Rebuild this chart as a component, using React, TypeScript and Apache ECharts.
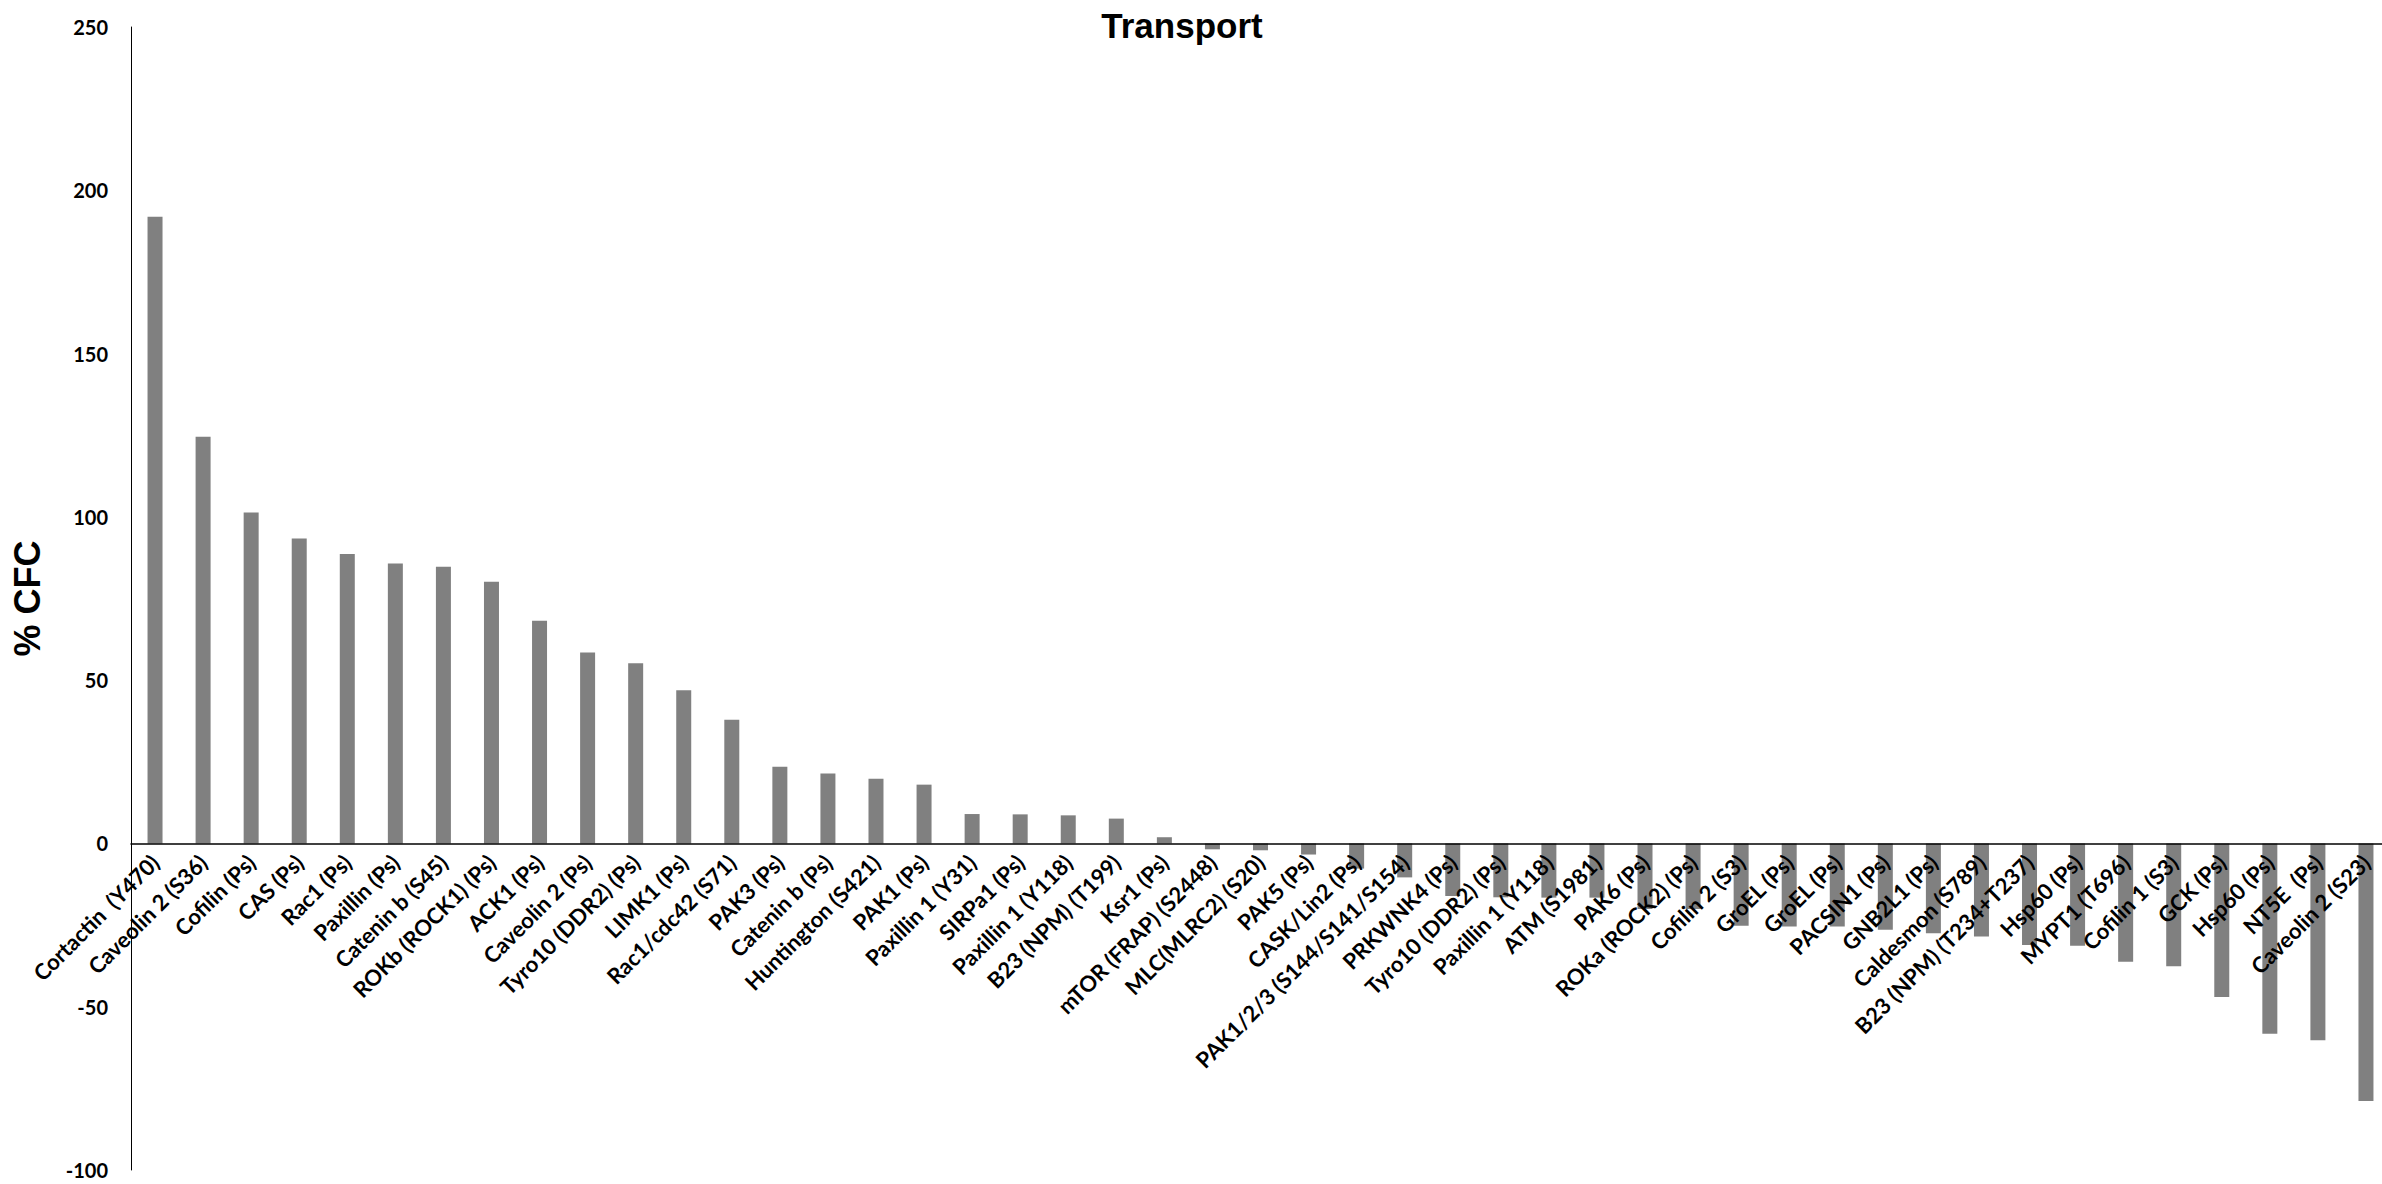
import React, { useEffect, useRef } from "react";
import * as echarts from "echarts";

const title = "Transport";
const yAxisTitle = "% CFC";

const categories = [
  "Cortactin  (Y470)", "Caveolin 2 (S36)", "Cofilin (Ps)", "CAS (Ps)", "Rac1 (Ps)",
  "Paxillin (Ps)", "Catenin b (S45)", "ROKb (ROCK1) (Ps)", "ACK1 (Ps)", "Caveolin 2 (Ps)",
  "Tyro10 (DDR2) (Ps)", "LIMK1 (Ps)", "Rac1/cdc42 (S71)", "PAK3 (Ps)", "Catenin b (Ps)",
  "Huntington (S421)", "PAK1 (Ps)", "Paxillin 1 (Y31)", "SIRPa1 (Ps)", "Paxillin 1 (Y118)",
  "B23 (NPM) (T199)", "Ksr1 (Ps)", "mTOR (FRAP) (S2448)", "MLC(MLRC2) (S20)", "PAK5 (Ps)",
  "CASK/Lin2 (Ps)", "PAK1/2/3 (S144/S141/S154)", "PRKWNK4 (Ps)", "Tyro10 (DDR2) (Ps)", "Paxillin 1 (Y118)",
  "ATM (S1981)", "PAK6 (Ps)", "ROKa (ROCK2) (Ps)", "Cofilin 2 (S3)", "GroEL (Ps)",
  "GroEL (Ps)", "PACSIN1 (Ps)", "GNB2L1 (Ps)", "Caldesmon (S789)", "B23 (NPM) (T234+T237)",
  "Hsp60 (Ps)", "MYPT1 (T696)", "Cofilin 1 (S3)", "GCK (Ps)", "Hsp60 (Ps)",
  "NT5E  (Ps)", "Caveolin 2 (S23)",
];

const values = [
  191.9, 124.5, 101.3, 93.4, 88.6, 85.7, 84.7, 80.1, 68.2, 58.5,
  55.2, 46.9, 37.9, 23.5, 21.4, 19.8, 18.0, 9.0, 8.9, 8.6,
  7.6, 1.9, -1.8, -2.1, -3.4, -7.7, -10.4, -16.1, -16.5, -16.6,
  -16.6, -20.1, -20.1, -25.2, -25.4, -25.4, -26.4, -27.5, -28.5, -31.1,
  -31.3, -36.2, -37.6, -47.0, -58.3, -60.3, -78.9,
];

const yTicks = [-100, -50, 0, 50, 100, 150, 200, 250];

const GRID_TOP = 27;
const GRID_BOTTOM = 14;
const CHART_H = 1184;

export default function App() {
  const ref = useRef<HTMLDivElement>(null);
  useEffect(() => {
    if (!ref.current) return;
    const chart = echarts.init(ref.current, undefined, { renderer: "svg" });
    const yMin = yTicks[0];
    const yMax = yTicks[yTicks.length - 1];
    const plotH = CHART_H - GRID_TOP - GRID_BOTTOM;
    // shift the category axis from the plot bottom up to the zero line
    const zeroOffset = -(plotH * (0 - yMin)) / (yMax - yMin);
    chart.setOption({
      animation: false,
      backgroundColor: "#ffffff",
      title: {
        text: title,
        left: 1177,
        top: 3,
        textAlign: "center",
        textStyle: {
          fontFamily: "Liberation Sans, Arial, sans-serif",
          fontWeight: "bold",
          fontSize: 35,
          color: "#000000",
        },
      },
      grid: {
        left: 131,
        right: -8,
        top: GRID_TOP,
        bottom: GRID_BOTTOM,
        containLabel: false,
        outerBoundsMode: "none",
      },
      xAxis: {
        type: "category",
        data: categories,
        offset: zeroOffset,
        z: 10,
        axisLine: { show: true, onZero: false, lineStyle: { color: "#000000", width: 1.5 } },
        axisTick: { show: false },
        axisLabel: {
          interval: 0,
          rotate: 45,
          margin: 15,
          color: "#000000",
          fontFamily: "Lato, sans-serif",
          fontWeight: "bold",
          fontSize: 22,
        },
        splitLine: { show: false },
      },
      yAxis: {
        type: "value",
        min: yMin,
        max: yMax,
        interval: yTicks[1] - yTicks[0],
        name: yAxisTitle,
        nameLocation: "middle",
        nameRotate: 90,
        nameGap: 86,
        nameTextStyle: {
          fontFamily: "Liberation Sans, Arial, sans-serif",
          fontWeight: "bold",
          fontSize: 36,
          color: "#000000",
        },
        axisLine: { show: true, lineStyle: { color: "#000000", width: 1 } },
        axisTick: { show: false },
        splitLine: { show: false },
        axisLabel: {
          margin: 23,
          color: "#000000",
          fontFamily: "Lato, sans-serif",
          fontWeight: "bold",
          fontSize: 20,
        },
      },
      series: [
        {
          type: "bar",
          data: values,
          barWidth: 15,
          z: 1,
          itemStyle: { color: "#808080" },
        },
      ],
    });
    return () => chart.dispose();
  }, []);
  return (
    <div
      ref={ref}
      style={{ position: "fixed", left: 0, top: 0, width: 2382, height: 1184, background: "#fff" }}
    />
  );
}
